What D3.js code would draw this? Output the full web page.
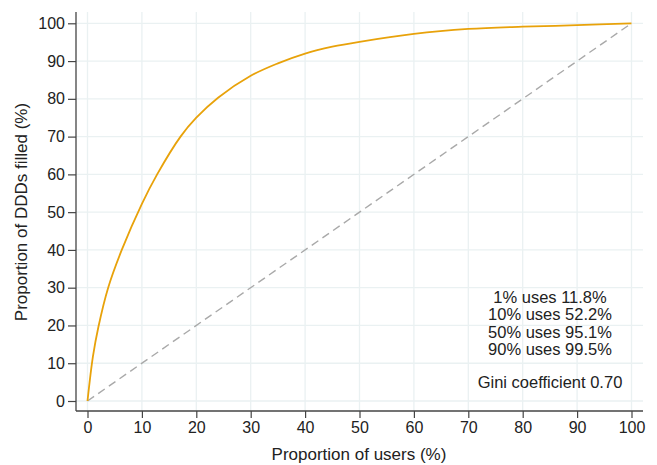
<!DOCTYPE html>
<html>
<head>
<meta charset="utf-8">
<script src="https://cdn.jsdelivr.net/npm/d3@7"></script>
<style>
  body { margin: 0; background: #fff; }
  text { font-family: "Liberation Sans", Arial, sans-serif; fill: #222; }
</style>
</head>
<body>
<svg id="chart" width="657" height="465"></svg>
<script>
// Lorenz curve
let usersPct = [0, 1, 2, 3.8, 6.3, 10, 12.8, 17.1, 20, 24, 30, 35, 40, 45, 50, 60, 70, 80, 90, 100]
let dddPct   = [0, 11.8, 19.6, 30, 40, 52.2, 60, 70, 75, 80.3, 86.1, 89.4, 92.0, 93.8, 95.1, 97.2, 98.5, 99.1, 99.5, 100]
let equality = [0, 100]
let xTicks = [0, 10, 20, 30, 40, 50, 60, 70, 80, 90, 100]
let yTicks = [0, 10, 20, 30, 40, 50, 60, 70, 80, 90, 100]
let notes = ["1% uses 11.8%", "10% uses 52.2%", "50% uses 95.1%", "90% uses 99.5%"]
let giniNote = "Gini coefficient 0.70"

let svg = d3.select("#chart")
let pLeft = 76, pRight = 643, pTop = 12, pBottom = 411

let x = d3.scaleLinear().domain([0, 100]).range([87.5, 631.5])
let y = d3.scaleLinear().domain([0, 100]).range([401, 23.3])

// grid
let g = svg.append("g")
g.selectAll(".vg").data(xTicks).enter().append("line")
	.attr("x1", d => x(d)).attr("x2", d => x(d))
	.attr("y1", pTop).attr("y2", pBottom)
	.attr("stroke", "#eaf1f2").attr("stroke-width", 1.3)
g.selectAll(".hg").data(yTicks).enter().append("line")
	.attr("x1", pLeft).attr("x2", pRight)
	.attr("y1", d => y(d)).attr("y2", d => y(d))
	.attr("stroke", "#eaf1f2").attr("stroke-width", 1.3)

// axes
let xAxis = svg.append("g")
	.attr("transform", "translate(0," + pBottom + ")")
	.call(d3.axisBottom(x).tickValues(xTicks).tickSize(7).tickPadding(4).tickSizeOuter(0))
let yAxis = svg.append("g")
	.attr("transform", "translate(" + pLeft + ",0)")
	.call(d3.axisLeft(y).tickValues(yTicks).tickSize(8).tickPadding(3).tickSizeOuter(0))

;[xAxis, yAxis].forEach(a => {
	a.select(".domain").remove()
	a.selectAll(".tick line").attr("stroke", "#444").attr("stroke-width", 1.2)
	a.selectAll(".tick text").style("font-size", "16px").attr("fill", "#222")
})
svg.append("line").attr("x1", pLeft).attr("x2", pRight).attr("y1", pBottom).attr("y2", pBottom)
	.attr("stroke", "#444").attr("stroke-width", 1.3)
svg.append("line").attr("x1", pLeft).attr("x2", pLeft).attr("y1", pTop).attr("y2", pBottom)
	.attr("stroke", "#444").attr("stroke-width", 1.3)

// equality line
svg.append("path")
	.datum(equality)
	.attr("fill", "none")
	.attr("stroke", "#a9a9a9")
	.attr("stroke-width", 1.4)
	.attr("stroke-dasharray", "8,5")
	.attr("d", d3.line().x(d => x(d)).y(d => y(d)))

// lorenz curve
svg.append("path")
	.datum(usersPct.map((u, i) => [u, dddPct[i]]))
	.attr("fill", "none")
	.attr("stroke", "#e8a20a")
	.attr("stroke-width", 1.8)
	.attr("stroke-linejoin", "round")
	.attr("d", d3.line().x(d => x(d[0])).y(d => y(d[1])).curve(d3.curveCatmullRom.alpha(0.5)))

// annotations
svg.selectAll(".note").data(notes).enter().append("text")
	.attr("x", 550).attr("y", (d, i) => 303 + i * 17.3)
	.attr("text-anchor", "middle")
	.style("font-size", "16.5px")
	.text(d => d)
svg.append("text")
	.attr("x", 550).attr("y", 388)
	.attr("text-anchor", "middle")
	.style("font-size", "16.5px")
	.text(giniNote)

// titles
svg.append("text")
	.attr("x", 359).attr("y", 460)
	.attr("text-anchor", "middle")
	.style("font-size", "17px")
	.text("Proportion of users (%)")
svg.append("text")
	.attr("transform", "translate(27,212) rotate(-90)")
	.attr("text-anchor", "middle")
	.style("font-size", "17px")
	.text("Proportion of DDDs filled (%)")
</script>
</body>
</html>
